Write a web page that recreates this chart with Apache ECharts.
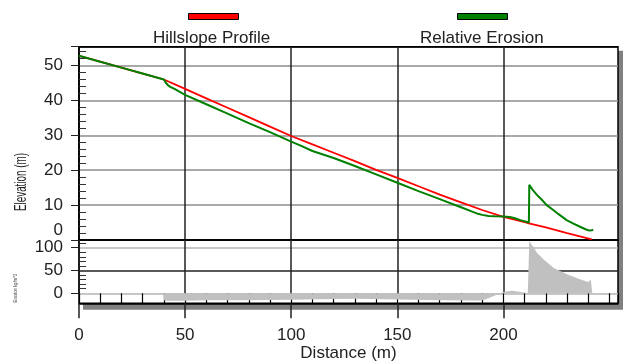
<!DOCTYPE html>
<html>
<head>
<meta charset="utf-8">
<style>
  html, body { margin: 0; padding: 0; background: #fff; }
  #chart { width: 633px; height: 361px; }
</style>
<script src="https://cdn.jsdelivr.net/npm/echarts@6/dist/echarts.min.js"></script>
</head>
<body>
<div id="chart"></div>
<script>
// hillslope profile (red)
const profileDist = [0, 10, 20, 30, 40, 50, 60, 70, 80, 90, 100, 110, 120, 130, 140, 150, 160, 170, 180, 190, 200, 210, 212, 220, 230, 241.6];
const profileElev = [52.8, 51.1, 49.4, 47.7, 46.0, 43.3, 40.6, 37.9, 35.2, 32.5, 29.8, 27.4, 25.0, 22.6, 20.1, 17.8, 15.4, 13.0, 10.8, 8.6, 6.6, 5.1, 4.8, 3.6, 2.0, 0.2];

// relative erosion profile (green)
const erodedDist = [0, 10, 20, 30, 40, 41, 42, 43, 45, 50, 60, 70, 80, 90, 100, 105, 110, 120, 130, 140, 150, 160, 170, 180, 185, 188, 190, 193, 196, 200, 203, 205, 208, 212, 212.2, 214, 216, 218, 220.4, 223, 226, 229.8, 233, 236.1, 239, 240.5, 241.6, 242.3];
const erodedElev = [52.8, 51.1, 49.4, 47.7, 46.0, 45.0, 44.3, 43.9, 43.3, 41.6, 38.9, 36.2, 33.5, 30.9, 28.2, 26.9, 25.5, 23.5, 21.2, 18.8, 16.4, 14.0, 11.7, 9.4, 8.2, 7.5, 7.2, 6.9, 6.8, 6.7, 6.6, 6.3, 5.7, 5.0, 15.8, 14.2, 12.8, 11.6, 10.0, 8.8, 7.4, 5.7, 4.7, 3.8, 3.0, 2.7, 2.8, 3.0];

// erosion in kg/m^2 (gray area, lower panel)
const erosionDist = [39.8, 40, 42, 50, 60, 80, 100, 120, 130, 150, 170, 188, 190, 193, 196, 198, 200, 204, 208, 211.5, 212, 212.2, 214.3, 216, 219, 223.7, 230, 236, 240, 241.2, 241.8, 241.9];
const erosionVal = [0, -15, -16.5, -16.5, -15.5, -15.5, -14, -12.5, -12, -13.5, -15.5, -16, -15, -11, -5, -1, 3, 5.5, 3, 0.5, 0, 115, 100, 88, 74, 55.5, 42, 31, 25, 30, 32, 0];

const distTicks = [0, 50, 100, 150, 200, 250];

const FONT = "'Liberation Sans', Arial, sans-serif";
const pair = (xs, ys) => xs.map((x, i) => [x, ys[i]]);

// plot box in px
const L = 79, T = 46.7, W = 539, MID = 240, BOT = 293.3;

const chart = echarts.init(document.getElementById('chart'));

const vGrid = ['#222', '#222', '#222', '#222', '#222', 'transparent', 'transparent'];

chart.setOption({
  animation: false,
  backgroundColor: '#fff',
  textStyle: { fontFamily: FONT },
  title: [
    { text: 'Hillslope Profile', left: 153, top: 30, padding: 0,
      textStyle: { fontSize: 17, fontWeight: 'normal', color: '#222', fontFamily: FONT } },
    { text: 'Relative Erosion', left: 420, top: 30, padding: 0,
      textStyle: { fontSize: 17, fontWeight: 'normal', color: '#222', fontFamily: FONT } }
  ],
  legend: [
    { data: ['Hillslope Profile'], left: 188, top: 13, padding: 0, icon: 'rect',
      itemWidth: 50, itemHeight: 6, formatter: () => '', selectedMode: false,
      itemStyle: { borderColor: '#000', borderWidth: 1 } },
    { data: ['Relative Erosion'], left: 457, top: 13, padding: 0, icon: 'rect',
      itemWidth: 50, itemHeight: 6, formatter: () => '', selectedMode: false,
      itemStyle: { borderColor: '#000', borderWidth: 1 } }
  ],
  graphic: [
    { type: 'rect', z: -10, shape: { x: L + 4, y: T + 4, width: W + 1, height: 259 },
      style: { fill: '#808080' } },
    { type: 'rect', z: -9, shape: { x: L, y: T, width: W, height: 303.3 - T },
      style: { fill: '#fff', stroke: '#000', lineWidth: 1.5 } },
    { type: 'text', x: 21, y: 182, rotation: Math.PI / 2, scaleX: 0.58,
      style: { text: 'Elevation (m)', fontSize: 17, fontFamily: FONT, fill: '#222',
        align: 'center', verticalAlign: 'middle' } },
    { type: 'text', x: 15, y: 288, rotation: Math.PI / 2, scaleX: 0.7,
      style: { text: 'Erosion kg/m^2', fontSize: 6, fontFamily: FONT, fill: '#444',
        align: 'center', verticalAlign: 'middle' } }
  ],
  grid: [
    { left: L, top: T, width: W, height: MID - T, outerBoundsMode: 'none', containLabel: false },
    { left: L, top: MID, width: W, height: BOT - MID, outerBoundsMode: 'none', containLabel: false }
  ],
  xAxis: [
    { type: 'value', gridIndex: 0, position: 'bottom', min: 0, max: 254, interval: 50,
      axisLine: { show: true, lineStyle: { color: '#000', width: 1.5 } },
      axisTick: { show: false }, axisLabel: { show: false },
      splitLine: { show: true, lineStyle: { color: vGrid, width: 1.5 } } },
    { type: 'value', gridIndex: 1, position: 'bottom', min: 0, max: 254, interval: 10,
      axisLine: { show: false },
      axisTick: { show: true, length: 10, lineStyle: { color: '#000', width: 1.2 } },
      axisLabel: { show: false }, splitLine: { show: false } },
    { type: 'value', gridIndex: 1, position: 'bottom', min: 0, max: 254, interval: 50, offset: 10, z: 3,
      name: 'Distance (m)', nameLocation: 'middle', nameGap: 41,
      nameTextStyle: { fontSize: 17, color: '#222', fontFamily: FONT },
      axisLine: { show: true, lineStyle: { color: '#000', width: 1.5 } },
      axisTick: { show: true, length: 15, customValues: distTicks, lineStyle: { color: '#222', width: 1.5 } },
      axisLabel: { fontSize: 17, color: '#222', margin: 24, customValues: distTicks, showMaxLabel: false },
      splitLine: { show: true, lineStyle: { color: vGrid, width: 1.5 } } }
  ],
  yAxis: [
    { type: 'value', gridIndex: 0, position: 'left', min: 0, max: 55.4, interval: 10,
      axisLine: { show: true, lineStyle: { color: '#000', width: 1.5 } },
      axisTick: { show: true, length: 8, lineStyle: { color: '#222' } },
      minorTick: { show: true, splitNumber: 5, length: -7, lineStyle: { color: '#333', width: 1 } },
      axisLabel: { fontSize: 17, color: '#222', margin: 16, showMaxLabel: false,
        formatter: v => v === 0 ? '{lift|0}' : String(v),
        rich: { lift: { fontSize: 17, color: '#222', padding: [0, 0, 20, 0] } } },
      splitLine: { show: true, lineStyle: { color: ['#000', '#8c8c8c', '#8c8c8c', '#8c8c8c', '#8c8c8c', '#8c8c8c', '#000'], width: 1.5 } } },
    { type: 'value', gridIndex: 1, position: 'left', min: 0, max: 117, interval: 50,
      axisLine: { show: true, lineStyle: { color: '#000', width: 1.5 } },
      axisTick: { show: true, length: 8, lineStyle: { color: '#222' } },
      minorTick: { show: true, splitNumber: 5, length: -7, lineStyle: { color: '#333', width: 1 } },
      axisLabel: { fontSize: 17, color: '#222', margin: 16, showMaxLabel: false, padding: [4, 0, 0, 0] },
      splitLine: { show: true, lineStyle: { color: ['#b4b4b4', '#222', '#b4b4b4', '#000'], width: 1.5 } } }
  ],
  series: [
    { name: 'Hillslope Profile', type: 'line', xAxisIndex: 0, yAxisIndex: 0,
      data: pair(profileDist, profileElev), showSymbol: false, color: '#ff0000',
      lineStyle: { color: '#ff0000', width: 1.8 } },
    { name: 'Relative Erosion', type: 'line', xAxisIndex: 0, yAxisIndex: 0,
      data: pair(erodedDist, erodedElev), showSymbol: false, color: '#008000',
      lineStyle: { color: '#008000', width: 2 } },
    { name: 'Erosion', type: 'line', xAxisIndex: 2, yAxisIndex: 1, clip: false,
      data: pair(erosionDist, erosionVal), showSymbol: false, color: '#c0c0c0',
      lineStyle: { width: 0 }, areaStyle: { color: '#c0c0c0', opacity: 1 } }
  ]
});
</script>
</body>
</html>
